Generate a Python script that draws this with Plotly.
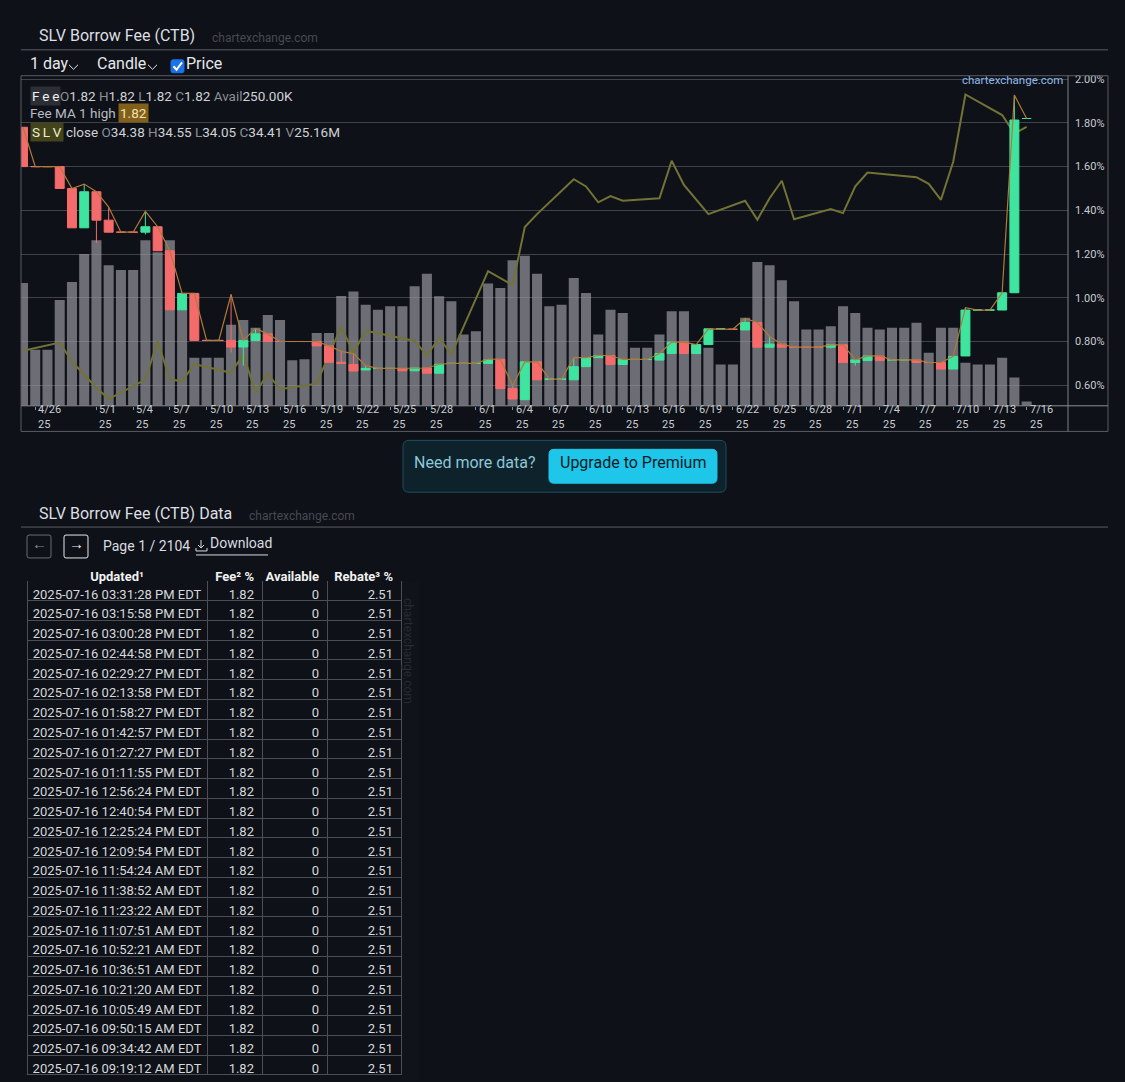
import pandas as pd
import plotly.graph_objects as go

W, H = 1125, 1082
BG = '#0e1117'
FONT = 'Roboto'

# ---- chart data ----
dates = pd.date_range('2025-04-25', '2025-07-16', freq='D')

fee_open = [1.78, 1.60, 1.60, 1.60, 1.50, 1.32, 1.485, 1.355, 1.30, 1.30,
            1.30, 1.325, 1.215, 0.945, 1.02, 0.805, 0.805, 0.805, 0.775, 0.805,
            0.835, 0.80, 0.80, 0.80, 0.80, 0.78, 0.705, 0.695, 0.67, 0.677,
            0.677, 0.677, 0.666, 0.679, 0.655, 0.70, 0.70, 0.70, 0.70, 0.719,
            0.585, 0.534, 0.707, 0.628, 0.628, 0.625, 0.685, 0.726, 0.736, 0.695,
            0.718, 0.718, 0.715, 0.745, 0.797, 0.745, 0.786, 0.858, 0.856, 0.853,
            0.887, 0.774, 0.788, 0.774, 0.774, 0.774, 0.774, 0.785, 0.704, 0.713,
            0.734, 0.716, 0.716, 0.716, 0.704, 0.704, 0.674, 0.734, 0.944, 0.944,
            0.944, 1.023, 1.82]
fee_high = [1.78, 1.60, 1.60, 1.60, 1.50, 1.52, 1.485, 1.415, 1.30, 1.30,
            1.395, 1.325, 1.215, 1.02, 1.02, 0.805, 0.805, 1.015, 0.805, 0.86,
            0.835, 0.80, 0.80, 0.80, 0.80, 0.78, 0.755, 0.745, 0.69, 0.677,
            0.677, 0.677, 0.679, 0.679, 0.696, 0.70, 0.70, 0.70, 0.72, 0.719,
            0.598, 0.707, 0.707, 0.628, 0.628, 0.726, 0.726, 0.736, 0.736, 0.718,
            0.718, 0.718, 0.745, 0.797, 0.797, 0.786, 0.858, 0.858, 0.856, 0.906,
            0.887, 0.823, 0.788, 0.774, 0.774, 0.774, 0.785, 0.785, 0.716, 0.734,
            0.734, 0.716, 0.716, 0.716, 0.704, 0.704, 0.732, 0.955, 0.944, 0.944,
            1.023, 1.927, 1.82]
fee_low = [1.60, 1.60, 1.60, 1.50, 1.32, 1.32, 1.25, 1.30, 1.30, 1.30,
           1.29, 1.215, 0.945, 0.945, 0.805, 0.805, 0.805, 0.75, 0.69, 0.805,
           0.80, 0.80, 0.80, 0.80, 0.78, 0.705, 0.70, 0.665, 0.67, 0.677,
           0.677, 0.666, 0.666, 0.655, 0.655, 0.70, 0.70, 0.70, 0.70, 0.585,
           0.537, 0.534, 0.625, 0.628, 0.628, 0.625, 0.685, 0.726, 0.695, 0.695,
           0.718, 0.718, 0.715, 0.745, 0.745, 0.745, 0.786, 0.858, 0.856, 0.853,
           0.774, 0.774, 0.774, 0.774, 0.774, 0.774, 0.768, 0.704, 0.69, 0.713,
           0.713, 0.716, 0.716, 0.704, 0.704, 0.674, 0.674, 0.734, 0.944, 0.944,
           0.944, 1.023, 1.82]
fee_close = [1.60, 1.60, 1.60, 1.50, 1.32, 1.485, 1.355, 1.30, 1.30, 1.30,
             1.325, 1.215, 0.945, 1.02, 0.805, 0.805, 0.805, 0.775, 0.805, 0.835,
             0.80, 0.80, 0.80, 0.80, 0.78, 0.705, 0.70, 0.665, 0.677, 0.677,
             0.677, 0.666, 0.679, 0.655, 0.696, 0.70, 0.70, 0.70, 0.716, 0.585,
             0.537, 0.707, 0.625, 0.628, 0.628, 0.685, 0.726, 0.736, 0.695, 0.718,
             0.718, 0.718, 0.745, 0.797, 0.745, 0.786, 0.858, 0.858, 0.856, 0.887,
             0.774, 0.788, 0.774, 0.774, 0.774, 0.774, 0.785, 0.704, 0.716, 0.734,
             0.713, 0.716, 0.716, 0.704, 0.704, 0.674, 0.732, 0.944, 0.944, 0.944,
             1.023, 1.813, 1.82]

# shares available, thousands
avail_k = [7090, 3240, 3240, 6110, 7150, 8760, 9560, 8120, 7840, 7840,
           9560, 8870, 9560, 5600, 2780, 2780, 2780, 4680, 4960, 4500,
           5250, 4960, 2630, 2690, 4210, 4210, 6340, 6600, 5840, 5550,
           5750, 5750, 6900, 7620, 6330, 6040, 4120, 4310, 7060, 6800,
           8400, 8660, 7620, 5750, 5840, 7380, 6510, 4120, 5550, 5360,
           3350, 3350, 4120, 5460, 5460, 3540, 3350, 2390, 2390, 5080,
           8300, 8110, 7250, 6040, 4400, 4400, 4600, 5750, 5360, 4500,
           4400, 4500, 4500, 4790, 3060, 4500, 4500, 2490, 2390, 2390,
           2780, 1630, 250]

# SLV close, trading days only
price_dates = ['2025-04-25', '2025-04-28', '2025-04-29', '2025-04-30', '2025-05-01', '2025-05-02',
               '2025-05-05', '2025-05-06', '2025-05-07', '2025-05-08', '2025-05-09',
               '2025-05-12', '2025-05-13', '2025-05-14', '2025-05-15', '2025-05-16',
               '2025-05-19', '2025-05-20', '2025-05-21', '2025-05-22', '2025-05-23',
               '2025-05-27', '2025-05-28', '2025-05-29', '2025-05-30',
               '2025-06-02', '2025-06-03', '2025-06-04', '2025-06-05', '2025-06-06',
               '2025-06-09', '2025-06-10', '2025-06-11', '2025-06-12', '2025-06-13',
               '2025-06-16', '2025-06-17', '2025-06-18', '2025-06-20',
               '2025-06-23', '2025-06-24', '2025-06-25', '2025-06-26', '2025-06-27',
               '2025-06-30', '2025-07-01', '2025-07-02', '2025-07-03',
               '2025-07-07', '2025-07-08', '2025-07-09', '2025-07-10', '2025-07-11',
               '2025-07-14', '2025-07-15', '2025-07-16']
price_close = [30.05, 30.21, 29.84, 29.59, 29.33, 29.11,
               29.49, 30.24, 29.49, 29.46, 29.79,
               29.62, 29.98, 29.24, 29.60, 29.30,
               29.41, 29.97, 30.52, 30.01, 30.44,
               30.24, 29.96, 30.30, 29.98,
               31.60, 31.47, 31.33, 32.46, 32.71,
               33.39, 33.25, 32.94, 33.06, 32.97,
               33.02, 33.75, 33.28, 32.71,
               32.97, 32.60, 33.02, 33.36, 32.61,
               32.81, 32.73, 33.25, 33.52,
               33.43, 33.30, 32.99, 33.73, 35.04,
               34.64, 34.28, 34.41]

tick_dates = ['2025-04-26', '2025-05-01', '2025-05-04', '2025-05-07', '2025-05-10', '2025-05-13',
              '2025-05-16', '2025-05-19', '2025-05-22', '2025-05-25', '2025-05-28', '2025-06-01',
              '2025-06-04', '2025-06-07', '2025-06-10', '2025-06-13', '2025-06-16', '2025-06-19',
              '2025-06-22', '2025-06-25', '2025-06-28', '2025-07-01', '2025-07-04', '2025-07-07',
              '2025-07-10', '2025-07-13', '2025-07-16']
tick_text = ['4/26', '5/1', '5/4', '5/7', '5/10', '5/13', '5/16', '5/19', '5/22', '5/25',
             '5/28', '6/1', '6/4', '6/7', '6/10', '6/13', '6/16', '6/19', '6/22', '6/25',
             '6/28', '7/1', '7/4', '7/7', '7/10', '7/13', '7/16']
fee_ticks = [0.6, 0.8, 1.0, 1.2, 1.4, 1.6, 1.8, 2.0]
fee_tick_text = [f'{v:.2f}%' for v in fee_ticks]

# ---- table data ----
updated = ['03:31:28 PM', '03:15:58 PM', '03:00:28 PM', '02:44:58 PM', '02:29:27 PM',
           '02:13:58 PM', '01:58:27 PM', '01:42:57 PM', '01:27:27 PM', '01:11:55 PM',
           '12:56:24 PM', '12:40:54 PM', '12:25:24 PM', '12:09:54 PM', '11:54:24 AM',
           '11:38:52 AM', '11:23:22 AM', '11:07:51 AM', '10:52:21 AM', '10:36:51 AM',
           '10:21:20 AM', '10:05:49 AM', '09:50:15 AM', '09:34:42 AM', '09:19:12 AM']
fee_col = ['1.82'] * len(updated)
avail_col = ['0'] * len(updated)
rebate_col = ['2.51'] * len(updated)
# non-breaking spaces so the table does not wrap the text
NB = '\u00a0'
updated_txt = [f'2025-07-16{NB}{t.replace(" ", NB)}{NB}EDT' for t in updated]
table_header = ['Updated¹', f'Fee²{NB}%', 'Available', f'Rebate³{NB}%']


def px(x):
    return x / W


def py(y):
    return 1 - y / H


def P(x, y):
    return f'{px(x):.5f},{py(y):.5f}'


def rrect(x0, y0, x1, y1, r):
    return (f'M{P(x0 + r, y0)} L{P(x1 - r, y0)} Q{P(x1, y0)} {P(x1, y0 + r)} '
            f'L{P(x1, y1 - r)} Q{P(x1, y1)} {P(x1 - r, y1)} L{P(x0 + r, y1)} '
            f'Q{P(x0, y1)} {P(x0, y1 - r)} L{P(x0, y0 + r)} Q{P(x0, y0)} {P(x0 + r, y0)} Z')


annotations = []
shapes = []


def txt(x, y, text, size=13, color='#d0d3d8', xanchor='left', **kw):
    # annotations sit a little low with yanchor middle, pull them up
    y = y - 0.22 * size
    annotations.append(dict(x=px(x), y=py(y), xref='paper', yref='paper', text=text,
                            showarrow=False, xanchor=xanchor, yanchor='middle',
                            font=dict(family=FONT, size=size, color=color), **kw))


def hline(x0, x1, y, color='#55585e', width=1):
    shapes.append(dict(type='line', xref='paper', yref='paper', x0=px(x0), x1=px(x1),
                       y0=py(y), y1=py(y), line=dict(color=color, width=width)))


def vline(x, y0, y1, color='#55585e', width=1):
    shapes.append(dict(type='line', xref='paper', yref='paper', x0=px(x), x1=px(x),
                       y0=py(y0), y1=py(y1), line=dict(color=color, width=width)))


def path(d, fill=None, line='#55585e', width=1):
    shapes.append(dict(type='path', xref='paper', yref='paper', path=d,
                       fillcolor=fill if fill else 'rgba(0,0,0,0)',
                       line=dict(color=line, width=width)))


fig = go.Figure()

# availability bars (base axis, hidden) - translucent so the grid shows through
fig.add_trace(go.Bar(x=dates, y=avail_k,
                     marker=dict(color='rgba(155,155,162,0.68)', line=dict(width=0)),
                     xaxis='x', yaxis='y', hoverinfo='skip'))

# SLV price line
fig.add_trace(go.Scatter(x=price_dates, y=price_close, mode='lines',
                         line=dict(color='#737335', width=2), xaxis='x', yaxis='y2'))

# fee candles
fig.add_trace(go.Candlestick(x=dates, open=fee_open, high=fee_high, low=fee_low, close=fee_close,
                             increasing=dict(fillcolor='#3fe59e', line=dict(color='#3fe59e', width=1)),
                             decreasing=dict(fillcolor='#f56b6b', line=dict(color='#f56b6b', width=1)),
                             xaxis='x', yaxis='y3'))

# Fee MA 1 high
fig.add_trace(go.Scatter(x=dates, y=fee_high, mode='lines',
                         line=dict(color='#b07a38', width=1.2), xaxis='x', yaxis='y3'))

# x tick labels, left aligned two-line style, just right of the tick mark
for d, t in zip(tick_dates, tick_text):
    annotations.append(dict(x=d, xref='x', y=py(415), yref='paper', text=t,
                            showarrow=False, xanchor='left', yanchor='bottom',
                            xshift=2, borderpad=0,
                            font=dict(family=FONT, size=11, color='#c9ccd1')))
    annotations.append(dict(x=d, xref='x', y=py(415), yref='paper', text='25',
                            showarrow=False, xanchor='left', yanchor='top',
                            xshift=2, borderpad=0,
                            font=dict(family=FONT, size=11, color='#c9ccd1')))

# ---- page chrome ----
txt(37, 35, 'SLV Borrow Fee (CTB)', size=16, color='#dcdfe3')
txt(210, 37, 'chartexchange.com', size=12, color='#474a52')
hline(21, 1108, 46, color='#5a5d63')

txt(28, 63, '1 day', size=16, color='#e6e8eb')
path(f'M{P(69, 61)} L{P(73.5, 65.5)} L{P(78, 61)}', line='#e6e8eb', width=1)
txt(95, 63, 'Candle', size=16, color='#e6e8eb')
path(f'M{P(148, 61)} L{P(152.5, 65.5)} L{P(157, 61)}', line='#e6e8eb', width=1)
path(rrect(171, 56, 184, 69, 2), fill='#1a73e8', line='#1a73e8')
path(f'M{P(173.5, 62.5)} L{P(176.5, 66)} L{P(182, 58.5)}', line='#ffffff', width=2)
txt(184, 63, 'Price', size=16, color='#e6e8eb')

# chart frame
path(f'M{P(21, 72)} L{P(1108, 72)} L{P(1108, 429)} L{P(21, 429)} Z', line='#5a5d63')
vline(1068, 72, 429, color='#7d8086')
hline(21, 1108, 403.3, color='#8a8d92')

# legend block
gray = '#8b8f96'
val = '#cfd2d6'
txt(30, 95, 'F\u2009e\u2009e', size=13.5, color='#f2f2f2', bgcolor='#2b2e34', borderpad=1)
txt(58, 95, f"<span style='color:{gray}'>O</span>1.82 <span style='color:{gray}'>H</span>1.82 "
            f"<span style='color:{gray}'>L</span>1.82 <span style='color:{gray}'>C</span>1.82 "
            f"<span style='color:{gray}'>Avail</span>250.00K", size=13.5, color=val)
txt(28, 112, 'Fee MA 1 high', size=13.5, color='#b9bcc1')
txt(118, 112, '1.82', size=13.5, color='#f3e2b0', bgcolor='#80601a', borderpad=1)
txt(30, 131, 'S\u2009L\u2009V', size=13.5, color='#eeeec8', bgcolor='#44441c', borderpad=1)
txt(64, 131, f"close <span style='color:{gray}'>O</span>34.38 <span style='color:{gray}'>H</span>34.55 "
             f"<span style='color:{gray}'>L</span>34.05 <span style='color:{gray}'>C</span>34.41 "
             f"<span style='color:{gray}'>V</span>25.16M", size=13.5, color=val)
txt(1065, 79, 'chartexchange.com', size=11.5, color='#8fb8ea', xanchor='right')

# premium banner
path(rrect(403, 438, 726, 490, 6), fill='#0d222b', line='#1d4f5c')
txt(412, 464, 'Need more data?', size=16, color='#8cc7d6')
path(rrect(549, 447, 717, 481, 5), fill='#1ec6ea', line='#1ec6ea')
txt(633, 464, 'Upgrade to Premium', size=16, color='#0a1a24', xanchor='center')

# data section header
txt(37, 515, 'SLV Borrow Fee (CTB) Data', size=16, color='#dcdfe3')
txt(247, 517, 'chartexchange.com', size=12, color='#474a52')
hline(21, 1108, 525, color='#5a5d63')

path(rrect(27, 533, 51, 556, 2), line='#6a6d73')
txt(39, 545, '←', size=15, color='#8b8f96', xanchor='center')
path(rrect(64, 533, 88, 556, 2), line='#e8e8e8')
txt(76, 545, '→', size=15, color='#f2f2f2', xanchor='center')
txt(101, 547, 'Page 1 / 2104', size=14, color='#d8dbe0')
path(f'M{P(201, 538)} L{P(201, 546)} M{P(198, 543)} L{P(201, 546)} L{P(204, 543)} '
     f'M{P(196, 546)} L{P(196, 549)} L{P(207, 549)} L{P(207, 546)}', line='#d8dbe0', width=1)
txt(208, 544, 'Download', size=14, color='#d8dbe0')
hline(196, 268, 553, color='#d8dbe0')

txt(408, 652, 'chartexchange.com', size=12, color='#272b32', xanchor='center', textangle=90)

fig.add_trace(go.Table(
    domain=dict(x=[px(27), px(401)], y=[py(1081), py(561)]),
    columnwidth=[180, 55, 65, 74],
    header=dict(values=table_header,
                align=['center', 'right', 'right', 'right'], height=18,
                fill_color=BG, line_color=BG,
                font=dict(family=FONT, size=13, color='#f2f2f2', weight='bold')),
    cells=dict(values=[updated_txt, fee_col, avail_col, rebate_col],
               align=['center', 'right', 'right', 'right'], height=19.76,
               fill_color=BG, line_color='#4b4e54',
               font=dict(family=FONT, size=13, color='#d6d8dc'))))

fig.update_layout(
    width=W, height=H, margin=dict(l=0, r=0, t=0, b=0),
    paper_bgcolor=BG, plot_bgcolor=BG, showlegend=False,
    bargap=0.18, boxgap=0.15, boxgroupgap=0.14,
    font=dict(family=FONT, color='#d0d3d8'),
    xaxis=dict(domain=[px(21), px(1068)], type='date',
               range=['2025-04-24 20:05', '2025-07-19 09:07'],
               rangeslider=dict(visible=False), showgrid=False, zeroline=False,
               tickvals=tick_dates, ticks='outside', ticklen=3, tickcolor='#8a8d92',
               showticklabels=False, showline=False),
    yaxis=dict(domain=[py(403.3), py(73)], range=[0, 19000], visible=False, fixedrange=True),
    yaxis2=dict(domain=[py(403.3), py(73)], range=[28.978, 35.386], overlaying='y',
                visible=False),
    yaxis3=dict(domain=[py(403.3), py(73)], range=[0.506, 2.011], overlaying='y', side='right',
                anchor='x', tickmode='array', tickvals=fee_ticks, ticktext=fee_tick_text,
                showgrid=True, gridcolor='#3f4248', gridwidth=1, zeroline=False,
                showline=False, ticks='', ticklabelstandoff=6,
                tickfont=dict(family=FONT, size=11, color='#c9ccd1')),
    annotations=annotations,
    shapes=shapes,
)

fig.write_html('out.html', config={'displayModeBar': False},
               post_script=f"document.body.style.margin='0';document.body.style.background='{BG}';")
